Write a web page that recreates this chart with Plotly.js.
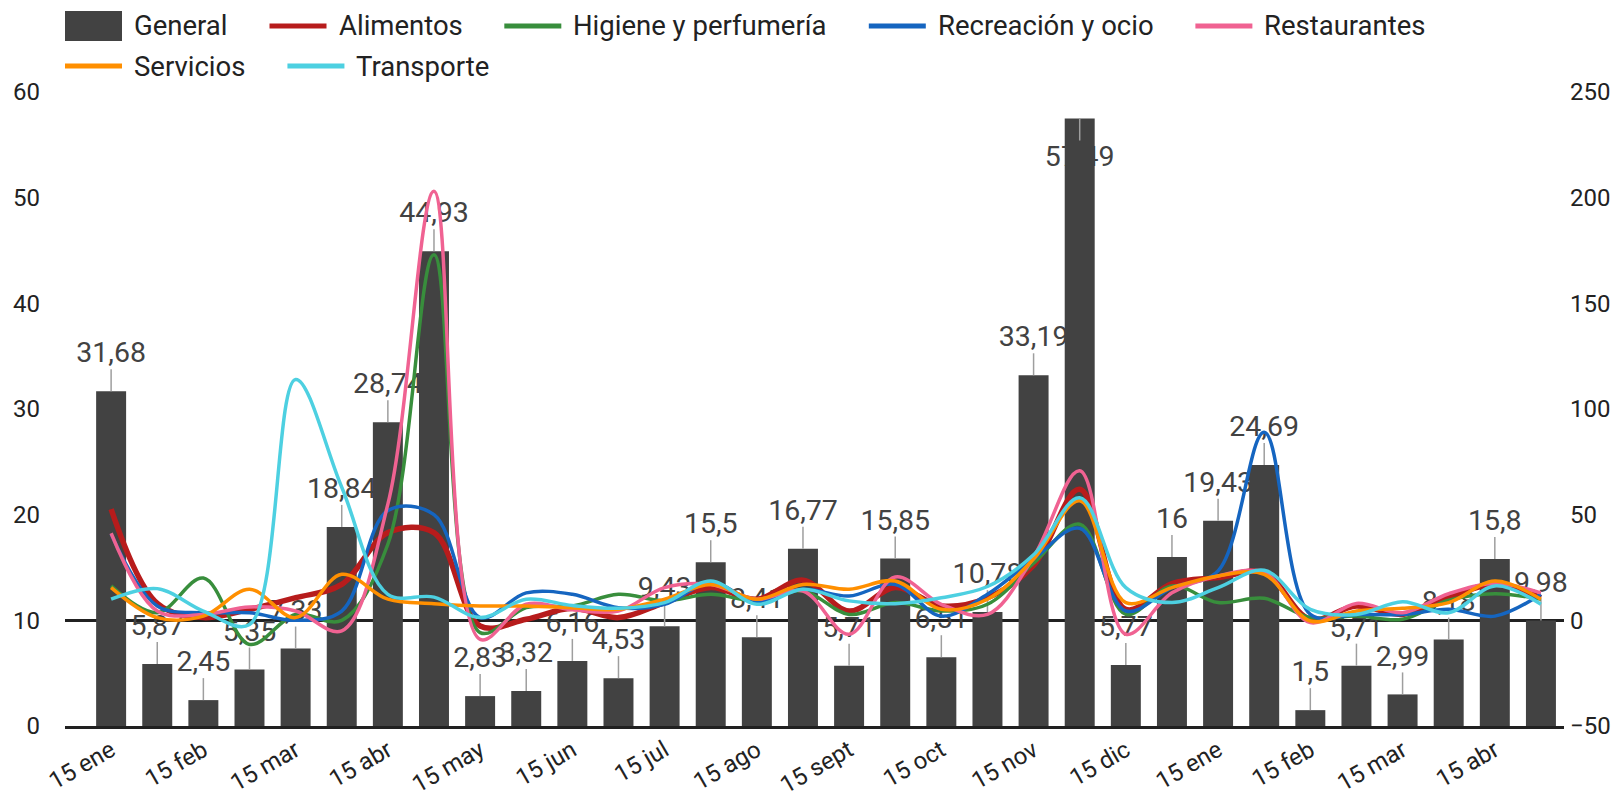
<!DOCTYPE html>
<html>
<head>
<meta charset="utf-8">
<script src="https://cdn.plot.ly/plotly-3.0.1.min.js"></script>
<style>
html,body{margin:0;padding:0;background:#ffffff;}
#chart{width:1612px;height:798px;}
</style>
</head>
<body>
<div id="chart"></div>
<script>
// ---------- DATA ----------
const tickLabels = ["15 ene","15 feb","15 mar","15 abr","15 may","15 jun","15 jul","15 ago",
                    "15 sept","15 oct","15 nov","15 dic","15 ene","15 feb","15 mar","15 abr"];

const general = [31.68, 5.87, 2.45, 5.35, 7.33, 18.84, 28.74, 44.93, 2.83, 3.32, 6.16, 4.53,
                 9.43, 15.5, 8.41, 16.77, 5.71, 15.85, 6.51, 10.78, 33.19, 57.49, 5.77, 16,
                 19.43, 24.69, 1.5, 5.71, 2.99, 8.18, 15.8, 9.98];

const alimentos = [52.6, 8, 1.3, 5.2, 10.7, 17, 41.5, 41.5, -2.7, 0.5, 5.7, 1.3,
                   8.4, 15.5, 10, 19, 4.4, 15.5, 6.8, 10.7, 26, 62, 5.2, 17.4,
                   20.2, 22.6, 0.5, 6.8, 2.8, 11, 17, 10.7];

const higiene = [16.3, 3.6, 20, -11.4, 2.8, 0, 36, 173, -5.8, 6, 6.8, 12.3,
                 9.2, 12.3, 9.2, 13.9, 2.8, 8.4, 4.4, 7.6, 27, 45.5, 2.8, 16.3,
                 8.4, 10.4, 1.3, 2, 0.5, 9.5, 12.6, 10];

const recreacion = [40.8, 6.8, 3.6, 3.6, 0, 4.4, 52, 50, 1.3, 13, 12.3, 6,
                    7.6, 17.9, 8.8, 14.7, 11.5, 17, 2, 12.3, 29, 43.6, 4.4, 15.5,
                    23.4, 89, 2.8, 2.8, 2.8, 5.2, 2, 12.3];

const restaurantes = [41.2, 4.4, 2.8, 6.3, 4.4, -5, 55, 203, -9, 7.6, 5, 4.4,
                      15.5, 17, 10, 13.9, -6.6, 20.5, 7.6, 2.8, 30, 70.8, -6.6, 13,
                      21, 22.6, -1.1, 8, 3.6, 12.6, 17.4, 13];

const servicios = [15.5, 1.3, 2, 14.7, 1.3, 21.8, 10, 7.9, 6.8, 6.8, 6, 5.2,
                   10, 17, 10, 17, 14.7, 18.6, 5.2, 10, 29, 56.6, 8.4, 15.5,
                   21, 21.8, -0.3, 4.4, 5.7, 8.4, 18.6, 10];

const transporte = [10, 15, 4.4, -2, 114, 63, 12.3, 11, 1.3, 10, 7, 5.7,
                    8.4, 18.6, 7.6, 14.7, 9.2, 7.9, 10.7, 16, 31, 58, 15.5, 8.4,
                    15.5, 23.7, 5.2, 2.8, 8.8, 3.6, 16.3, 7.6];

const barName = "General";
const lineNames = ["Alimentos","Higiene y perfumería","Recreación y ocio","Restaurantes","Servicios","Transporte"];
const lineSeries = [alimentos, higiene, recreacion, restaurantes, servicios, transporte];

// ---------- STYLE ----------
const barColor = "#424242";
const lineColors = ["#B71C1C","#388E3C","#1565C0","#F06292","#FF8F00","#4DD0E1"];
const lineWidths = [5.5, 3.5, 3.5, 3.5, 3.5, 3.5];
const FONT = "Roboto, 'Open Sans', sans-serif";
const LEG_SIZE = 27.5;

const W = 1612, H = 798;
const M = {l: 65, r: 48, t: 92, b: 72};
const PW = W - M.l - M.r, PH = H - M.t - M.b;
const yLeftRange = [0, 60];
const yRightRange = [-50, 250];
const xRange = [-1, 31.5];

const xIdx = general.map((_, i) => i);
const tickVals = tickLabels.map((_, k) => 2 * k);

// label offsets in px converted to left-axis units
const pxPerUnit = PH / (yLeftRange[1] - yLeftRange[0]);
const leaderUnits = 22 / pxPerUnit;
const labelUnitsUp = 36 / pxPerUnit;
const labelUnitsDown = 40 / pxPerUnit;
const goesDown = general.map(v => v + labelUnitsUp + 1.5 > yLeftRange[1]);

const fmt = v => String(v).replace('.', ',');

const traces = [];
traces.push({
  type: 'bar', x: xIdx, y: general, name: barName, yaxis: 'y',
  marker: {color: barColor}, showlegend: false, hoverinfo: 'skip',
  error_y: {
    type: 'data', symmetric: false,
    array: general.map((v, i) => goesDown[i] ? 0 : leaderUnits),
    arrayminus: general.map((v, i) => goesDown[i] ? leaderUnits : 0),
    color: '#9E9E9E', thickness: 1.5, width: 0, visible: true
  }
});
traces.push({
  type: 'scatter', mode: 'text', x: xIdx, yaxis: 'y',
  y: general.map((v, i) => goesDown[i] ? v - labelUnitsDown : v + labelUnitsUp),
  text: general.map(fmt), textposition: 'middle center',
  textfont: {family: FONT, size: 28.5, color: '#424242'},
  showlegend: false, hoverinfo: 'skip', cliponaxis: false
});
lineSeries.forEach((s, k) => {
  traces.push({
    type: 'scatter', mode: 'lines', x: xIdx, y: s, yaxis: 'y2', name: lineNames[k],
    line: {color: lineColors[k], width: lineWidths[k], shape: 'spline', smoothing: 1},
    showlegend: false, hoverinfo: 'skip', cliponaxis: false
  });
});

// ---------- custom legend ----------
function buildLegend() {
  const ctx = document.createElement('canvas').getContext('2d');
  ctx.font = LEG_SIZE + "px Roboto";
  const items = [{name: barName, color: barColor, kind: 'box'}]
    .concat(lineNames.map((n, k) => ({name: n, color: lineColors[k], kind: 'line'})));
  const symW = 57, symGap = 10, itemGap = 44, rowY = [26, 66];
  const plotRight = W - M.r;
  const toPX = px => (px - M.l) / PW;
  const toPY = py => (H - M.b - py) / PH;
  const shapes = [], anns = [];
  let x = M.l, row = 0;
  items.forEach(it => {
    const tw = ctx.measureText(it.name).width;
    const w = symW + symGap + tw;
    if (x + w > plotRight && x > M.l) { row++; x = M.l; }
    const cy = rowY[row];
    if (it.kind === 'box') {
      shapes.push({type: 'rect', xref: 'paper', yref: 'paper', x0: toPX(x), x1: toPX(x + symW),
        y0: toPY(cy + 15), y1: toPY(cy - 15), fillcolor: it.color, line: {width: 0}});
    } else {
      shapes.push({type: 'line', xref: 'paper', yref: 'paper', x0: toPX(x), x1: toPX(x + symW),
        y0: toPY(cy), y1: toPY(cy), line: {color: it.color, width: 5}});
    }
    anns.push({xref: 'paper', yref: 'paper', x: toPX(x + symW + symGap), y: toPY(cy),
      xanchor: 'left', yanchor: 'middle', showarrow: false, text: it.name,
      font: {family: FONT, size: LEG_SIZE, color: '#222222'}});
    x += w + itemGap;
  });
  return {shapes, anns};
}

function draw() {
  const lg = buildLegend();
  const layout = {
    width: W, height: H,
    margin: {l: M.l, r: M.r, t: M.t, b: M.b, pad: 0},
    paper_bgcolor: '#ffffff', plot_bgcolor: '#ffffff',
    font: {family: FONT, size: 24, color: '#222222'},
    showlegend: false, bargap: 0.35, hovermode: false,
    xaxis: {
      range: xRange, tickmode: 'array', tickvals: tickVals, ticktext: tickLabels,
      tickangle: -30, tickfont: {size: 24, color: '#222222'},
      showgrid: false, zeroline: false, showline: true, linecolor: '#212121', linewidth: 3,
      ticks: '', automargin: false, ticklabelstandoff: -2
    },
    yaxis: {
      range: yLeftRange, dtick: 10, tick0: 0, showgrid: false, zeroline: false, showline: false,
      ticks: '', tickfont: {size: 24, color: '#222222'}, ticklabelstandoff: 24, automargin: false
    },
    yaxis2: {
      range: yRightRange, dtick: 50, tick0: 0, overlaying: 'y', side: 'right',
      showgrid: false, zeroline: true, zerolinecolor: '#212121', zerolinewidth: 3,
      showline: false, ticks: '', tickfont: {size: 24, color: '#222222'},
      ticklabelstandoff: 5, automargin: false
    },
    shapes: lg.shapes,
    annotations: lg.anns
  };
  Plotly.newPlot('chart', traces, layout, {staticPlot: true, displayModeBar: false});
}

if (document.fonts && document.fonts.load) {
  document.fonts.load(LEG_SIZE + "px Roboto").then(draw, draw);
} else { draw(); }
</script>
</body>
</html>
